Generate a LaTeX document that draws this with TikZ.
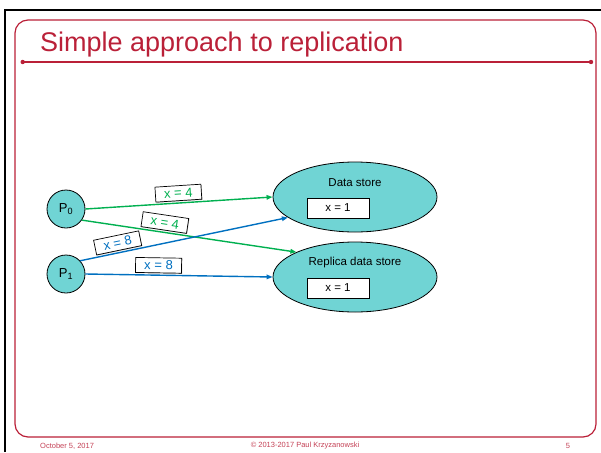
\documentclass[tikz,border=0pt]{standalone}
\usepackage{fontspec}
\setmainfont{Liberation Sans}
\usetikzlibrary{arrows.meta, positioning, shapes.geometric, shadows}
\definecolor{slidered}{RGB}{186, 32, 56}
\definecolor{storeteal}{RGB}{112, 212, 212}
\definecolor{wgreen}{RGB}{0, 176, 80}
\definecolor{wblue}{RGB}{0, 112, 192}

\begin{document}
\begin{tikzpicture}[x=1pt, y=-1pt, >={Triangle[length=6pt, width=4.5pt]},
    proc/.style={circle, draw, thick, fill=storeteal, minimum size=38pt, inner sep=0pt,
        font=\fontsize{13}{15}\selectfont},
    store/.style={ellipse, draw, thick, fill=storeteal, minimum width=164pt, minimum height=70pt},
    valbox/.style={draw, fill=white, minimum width=62pt, minimum height=20pt, inner sep=0pt,
        font=\fontsize{11.5}{13}\selectfont,
        general shadow={fill=black!35, shadow xshift=0.7pt, shadow yshift=-0.7pt}},
    msgbox/.style={draw=black, line width=0.7pt, fill=white, minimum width=46pt, minimum height=15pt,
        inner sep=0pt, font=\fontsize{13}{15}\selectfont, sloped, above=2pt,
        general shadow={fill=black!35, shadow xshift=0.6pt, shadow yshift=-0.6pt}},
    write/.style={->, line width=1.4pt}
]
\useasboundingbox (0,0) rectangle (601,452);

% === Marco de la diapositiva ===
\draw[line width=2pt] (5,452) -- (5,9.7) -- (601,9.7);
\draw[slidered, line width=1.2pt, rounded corners=13pt] (15,20) rectangle (596,437);
\node[anchor=base west, text=slidered, font=\fontsize{27}{30}\selectfont, inner sep=0pt]
    (title) at (40,52) {Simple approach to replication};
\coordinate (ruleL) at (22.7,62);
\coordinate (ruleR) at (591,62);
\draw[slidered, line width=1.2pt] (ruleL) -- (ruleR);
\fill[slidered] (ruleL) circle (2.2) (ruleR) circle (2.2);

% === Procesos ===
\node[proc] (p0) at (66,209) {P\textsubscript{0}};
\node[proc] (p1) at (66,274) {P\textsubscript{1}};

% === Almacenes ===
\node[store] (ds) at (355,197) {};
\node[font=\fontsize{11.5}{13}\selectfont] (dslbl) at (355,183) {Data store};
\node[valbox] (dsval) at (338,208) {x = 1};

\node[store] (rep) at (355,277) {};
\node[font=\fontsize{11.5}{13}\selectfont] (replbl) at (355,263) {Replica data store};
\node[valbox] (repval) at (338,288) {x = 1};

% === Escrituras ===
\draw[write, wgreen] (p0.east) -- node[msgbox, pos=.5, text=wgreen] {x = 4} (ds.west);
\draw[write, wgreen] (p0.-35) -- node[msgbox, pos=.38, text=wgreen] {x = 4} (rep.157);
\draw[write, wblue] (p1.43) -- node[msgbox, pos=.19, text=wblue] {x = 8} (ds.197);
\draw[write, wblue] (p1.east) -- node[msgbox, pos=.39, text=wblue] {x = 8} (rep.west);

% === Pie ===
\begin{scope}[font=\fontsize{7.5}{9}\selectfont, text=slidered!85]
    \node[anchor=west, inner sep=0pt] (date) at (40,446) {October 5, 2017};
    \node[inner sep=0pt] (copy) at (305,446) {© 2013-2017 Paul Krzyzanowski};
    \node[inner sep=0pt] (page) at (568,446) {5};
\end{scope}

\end{tikzpicture}
\end{document}
